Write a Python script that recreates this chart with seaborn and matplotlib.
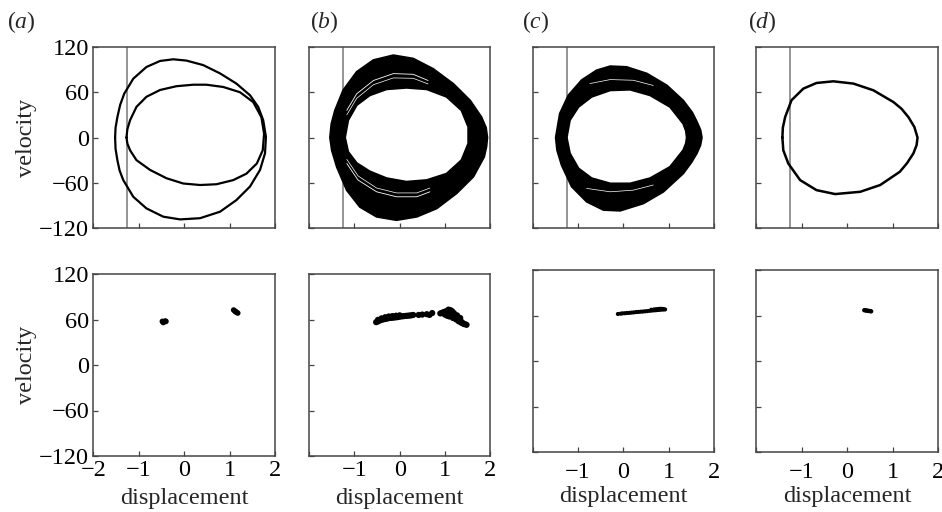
import matplotlib
matplotlib.use("Agg")
import matplotlib.pyplot as plt
from matplotlib.path import Path
from matplotlib.patches import PathPatch
import seaborn as sns

# ---------------- data ----------------
panel_letters = ["a", "b", "c", "d"]
y_ticks = [-120, -60, 0, 60, 120]
y_tick_labels = ["\u2212120", "\u221260", "0", "60", "120"]
x_ticks = [-2, -1, 0, 1, 2]
x_tick_labels_first = ["\u22122", "\u22121", "0", "1", "2"]
x_tick_labels_other = ["", "\u22121", "0", "1", "2"]
wall_position = -1.25

# (a) period-2 orbit: outer and inner loops
a_outer_x = [-1.52, -1.51, -1.47, -1.41, -1.32, -1.12, -0.83, -0.53, -0.24, 0.05, 0.42, 0.79, 1.15,
             1.45, 1.63, 1.74, 1.80, 1.78, 1.67, 1.45, 1.15, 0.79, 0.35, -0.09, -0.46, -0.83,
             -1.12, -1.34, -1.42, -1.47, -1.51]
a_outer_y = [0, 13, 27, 43, 58, 78, 93.5, 101.5, 103.7, 102, 96, 85, 71.5,
             56, 40.6, 23, 1, -21, -43, -65, -83, -98.4, -107, -108.6, -105, -94,
             -78.6, -56.5, -44, -30, -15]
a_inner_x = [-1.27, -1.25, -1.19, -1.05, -0.83, -0.53, -0.17, 0.20, 0.49, 0.86, 1.23, 1.52, 1.70,
             1.76, 1.73, 1.60, 1.37, 1.08, 0.71, 0.35, -0.02, -0.39, -0.75, -1.05, -1.19, -1.25]
a_inner_y = [0, 11, 23, 40.6, 54, 63, 68, 70, 70, 67, 60, 47, 27,
             5, -17, -34.5, -48, -56.5, -62, -63, -61, -54, -43, -30, -17, -8]

# (b) chaotic band: outer and inner edges, plus light streaks
b_outer_x = [-1.54, -1.51, -1.43, -1.25, -0.95, -0.58, -0.14, 0.30, 0.74, 1.19, 1.56, 1.81, 1.91,
             1.94, 1.92, 1.87, 1.63, 1.26, 0.82, 0.38, -0.07, -0.51, -0.88, -1.17, -1.39, -1.50]
b_outer_y = [0, 18, 36, 62.5, 87, 102.6, 109, 104.6, 91, 71, 49, 27, 13,
             0, -12, -25.6, -52, -74, -94, -105, -109.5, -105, -92, -69.8, -39, -17]
b_inner_x = [-1.21, -1.14, -0.95, -0.66, -0.29, 0.15, 0.60, 1.04, 1.37, 1.52, 1.52, 1.37,
             1.04, 0.60, 0.15, -0.29, -0.66, -0.95, -1.14]
b_inner_y = [0, 23, 43, 56, 64, 66, 64, 54, 36, 14, -8, -30,
             -48, -56.5, -58.7, -54, -45, -34, -19]
b_streak_up_x = [-1.17, -0.95, -0.58, -0.14, 0.30, 0.63]
b_streak_up_y = [36, 58, 75.6, 84.7, 83.8, 75.6]
b_streak_up2_y = [30, 52, 70, 79, 78.5, 71]
b_streak_lo_x = [-1.17, -0.92, -0.51, -0.07, 0.38, 0.67]
b_streak_lo_y = [-34.5, -56.5, -72, -78.6, -78.6, -72]
b_streak_lo2_y = [-29, -51, -67, -73.5, -73.5, -67]

# (c) narrower chaotic band
c_outer_x = [-1.49, -1.40, -1.21, -0.92, -0.59, -0.29, 0.07, 0.52, 0.96, 1.32, 1.52, 1.62, 1.70,
             1.73, 1.70, 1.62, 1.50, 1.32, 0.88, 0.44, -0.07, -0.44, -0.81, -1.14, -1.36, -1.46]
c_outer_y = [0, 31.7, 56, 76, 89, 94.4, 93.5, 84.7, 69, 49, 33, 21, 10,
             0, -10, -21, -33, -47.7, -72, -87.4, -97, -96, -85, -65, -36.7, -17]
c_inner_x = [-1.25, -1.18, -0.99, -0.70, -0.29, 0.15, 0.59, 1.03, 1.32, 1.38, 1.40, 1.38, 1.32, 1.03,
             0.59, 0.15, -0.29, -0.70, -0.99, -1.18]
c_inner_y = [0, 23, 40.6, 54, 62.6, 63.5, 56, 40.6, 18.5, 9, 0, -8, -17, -39,
             -54, -61, -61, -54, -41, -21]
c_streak_up_x = [-0.74, -0.29, 0.22, 0.66]
c_streak_up_y = [71.5, 76.8, 75.9, 69]
c_streak_lo_x = [-0.81, -0.29, 0.22, 0.66]
c_streak_lo_y = [-67.5, -72, -69.8, -63]

# (d) period-1 orbit
d_x = [-1.42, -1.41, -1.36, -1.22, -0.96, -0.67, -0.30, 0.14, 0.58, 1.02, 1.20, 1.35, 1.48, 1.55,
       1.53, 1.46, 1.32, 1.16, 0.73, 0.29, -0.26, -0.67, -1.03, -1.29, -1.40]
d_y = [0, 13, 27, 49.4, 64.8, 72.3, 74.5, 71.5, 62.6, 47, 38, 27, 14, 0,
       -10, -21, -34, -45.5, -63, -72, -75, -69.8, -56.5, -34.5, -17]

# Poincare sections
pa_x = [-0.48, -0.44, -0.40, -0.46, -0.42, 1.09, 1.12, 1.15, 1.18, 1.13]
pa_y = [57.5, 57, 57.5, 56, 58, 72.5, 71, 69.5, 68.5, 70.5]
pb_x = [-0.52, -0.48, -0.45, -0.41, -0.38, -0.34, -0.30, -0.26, -0.22, -0.18, -0.14, -0.10,
        -0.06, -0.02, 0.02, 0.06, 0.10, 0.14, 0.18, 0.22, 0.26, 0.30,
        -0.48, -0.40, -0.32, -0.24, -0.16, -0.08, 0.00,
        0.42, 0.50, 0.60, 0.72, 0.66,
        0.90, 0.94, 0.97, 1.00, 1.04, 1.08, 1.12, 1.16, 1.00, 1.07, 1.14, 1.20, 1.26, 1.32, 1.38,
        1.44, 1.48, 1.10, 1.18, 1.25, 1.31, 1.37, 1.42, 1.05, 1.13, 1.20, 1.27, 1.34, 1.22, 1.29]
pb_y = [56.5, 57.5, 58.5, 59.5, 60, 60.5, 61, 61.5, 62, 62.2, 62.5, 62.8,
        63, 63.5, 64, 64.2, 64.5, 64.8, 65, 65.2, 65.5, 66,
        59.5, 61.5, 63, 64, 64.5, 65, 65.5,
        66, 66.5, 67, 68.5, 66,
        68, 68.8, 69.5, 70.3, 71, 73, 72.5, 71, 66.5, 67.5, 68, 65, 62, 59, 56.5,
        54, 53, 64, 62, 60, 57.5, 55.5, 54, 65, 70, 68.5, 65.5, 62, 63, 60]
pc_x = [-0.12, -0.06, -0.02, 0.03, 0.08, 0.13, 0.18, 0.23, 0.28, 0.33, 0.38, 0.43, 0.48,
        0.53, 0.58, 0.63, 0.68, 0.72, 0.76, 0.80, 0.84, 0.88, 0.92,
        0.62, 0.68, 0.72, 0.76, 0.80, 0.84, 0.88]
pc_y = [62, 62.4, 62.8, 63, 63.3, 63.5, 63.8, 64.1, 64.5, 64.7, 65, 65.2, 65.5,
        65.8, 66.2, 66.5, 66.8, 67, 67.3, 67.5, 67.8, 67.9, 68,
        67.6, 68, 68.2, 68.5, 68.8, 68.8, 68.6]
pd_x = [0.38, 0.41, 0.43, 0.46, 0.48, 0.51, 0.53]
pd_y = [67, 66.8, 66.5, 66.2, 66, 65.8, 65.5]

# ---------------- style ----------------
sns.set_theme(style="white")
plt.rcParams['font.family'] = ['Liberation Serif', 'DejaVu Serif']
plt.rcParams['mathtext.fontset'] = 'custom'
plt.rcParams['mathtext.it'] = 'Liberation Serif:italic'
plt.rcParams['mathtext.rm'] = 'Liberation Serif'

SPINE = '#454545'
TICK_FS = 17.5
LABEL_FS = 17.5
fig = plt.figure(figsize=(9.42, 5.12), dpi=100)
W, H = 942.0, 512.0
lefts = [93.3, 309.3, 532.7, 756.0]
widths = [181.7, 180.7, 181.3, 182.0]
top_rows = [(47, 228)] * 4
bot_rows = [(274, 456), (274, 456), (270, 452), (270, 452)]
bot_tick_pad = [3, 3, 7.5, 7.5]
bot_label_pad = [5, 5, 2, 2]


def make_ax(l, w, t, b):
    return fig.add_axes([l / W, 1 - b / H, w / W, (b - t) / H])


def style_ax(ax, top, idx):
    ax.set_xlim(-2, 2)
    ax.set_ylim(-120, 120)
    for s in ax.spines.values():
        s.set_color(SPINE)
        s.set_linewidth(1.1)
    ax.set_yticks(y_ticks)
    ax.set_xticks(x_ticks)
    ax.tick_params(bottom=True, left=True, top=False, right=False,
                   direction='in', length=3.5, width=0.9, color=SPINE,
                   labelcolor='black', labelsize=TICK_FS, pad=3)
    if idx == 0:
        ax.set_yticklabels(y_tick_labels)
        ax.set_ylabel("velocity", fontsize=LABEL_FS)
        ax.yaxis.set_label_coords(-0.31, 0.5)
    else:
        ax.set_yticklabels([])
        ax.set_ylabel("")
    if top:
        ax.set_xticklabels([])
        ax.set_xlabel("")
    else:
        ax.tick_params(axis='x', pad=bot_tick_pad[idx])
        ax.set_xticklabels(x_tick_labels_first if idx == 0 else x_tick_labels_other)
        ax.set_xlabel("displacement", fontsize=LABEL_FS, labelpad=bot_label_pad[idx])


def closed_line(ax, xs, ys, lw=1.6, color='black'):
    sns.lineplot(x=list(xs) + [xs[0]], y=list(ys) + [ys[0]], sort=False,
                 estimator=None, color=color, linewidth=lw, ax=ax, legend=False,
                 solid_joinstyle='round', zorder=3)


def band(ax, ox, oy, ix, iy):
    verts = list(zip(ox, oy)) + [(ox[0], oy[0])]
    codes = [Path.MOVETO] + [Path.LINETO] * (len(ox) - 1) + [Path.CLOSEPOLY]
    inner = list(zip(ix, iy))[::-1]
    verts += inner + [inner[0]]
    codes += [Path.MOVETO] + [Path.LINETO] * (len(inner) - 1) + [Path.CLOSEPOLY]
    patch = PathPatch(Path(verts, codes), facecolor='black', edgecolor='black',
                      lw=1.5, joinstyle='round', zorder=3)
    ax.add_patch(patch)


def open_line(ax, xs, ys, lw, color):
    sns.lineplot(x=xs, y=ys, sort=False, estimator=None, color=color,
                 linewidth=lw, ax=ax, legend=False, zorder=4)


top_axes = [make_ax(lefts[i], widths[i], *top_rows[i]) for i in range(4)]
bot_axes = [make_ax(lefts[i], widths[i], *bot_rows[i]) for i in range(4)]

for ax in top_axes:
    ax.axvline(wall_position, color='#8c8c8c', lw=1.3, zorder=2)

# (a)
closed_line(top_axes[0], a_outer_x, a_outer_y)
closed_line(top_axes[0], a_inner_x, a_inner_y)
# (b)
band(top_axes[1], b_outer_x, b_outer_y, b_inner_x, b_inner_y)
open_line(top_axes[1], b_streak_up_x, b_streak_up_y, 0.6, 'white')
open_line(top_axes[1], b_streak_up_x, b_streak_up2_y, 0.5, 'white')
open_line(top_axes[1], b_streak_lo_x, b_streak_lo_y, 0.6, 'white')
open_line(top_axes[1], b_streak_lo_x, b_streak_lo2_y, 0.5, 'white')
# (c)
band(top_axes[2], c_outer_x, c_outer_y, c_inner_x, c_inner_y)
open_line(top_axes[2], c_streak_up_x, c_streak_up_y, 0.5, 'white')
open_line(top_axes[2], c_streak_lo_x, c_streak_lo_y, 0.5, 'white')
# (d)
closed_line(top_axes[3], d_x, d_y, lw=1.8)

# Poincare sections
for ax, xs, ys, s in [(bot_axes[0], pa_x, pa_y, 16), (bot_axes[1], pb_x, pb_y, 20),
                      (bot_axes[2], pc_x, pc_y, 9), (bot_axes[3], pd_x, pd_y, 10)]:
    sns.scatterplot(x=xs, y=ys, s=s, color='black', edgecolor='none', ax=ax,
                    legend=False, zorder=3)

for i in range(4):
    style_ax(top_axes[i], True, i)
    style_ax(bot_axes[i], False, i)

letter_x = [21, 324, 536, 762]
for lx, letter in zip(letter_x, panel_letters):
    fig.text(lx / W, 1 - 22 / H, "($\\mathit{%s}$)" % letter, fontsize=17,
             ha='center', va='center')

fig.savefig("out.png", dpi=100)
